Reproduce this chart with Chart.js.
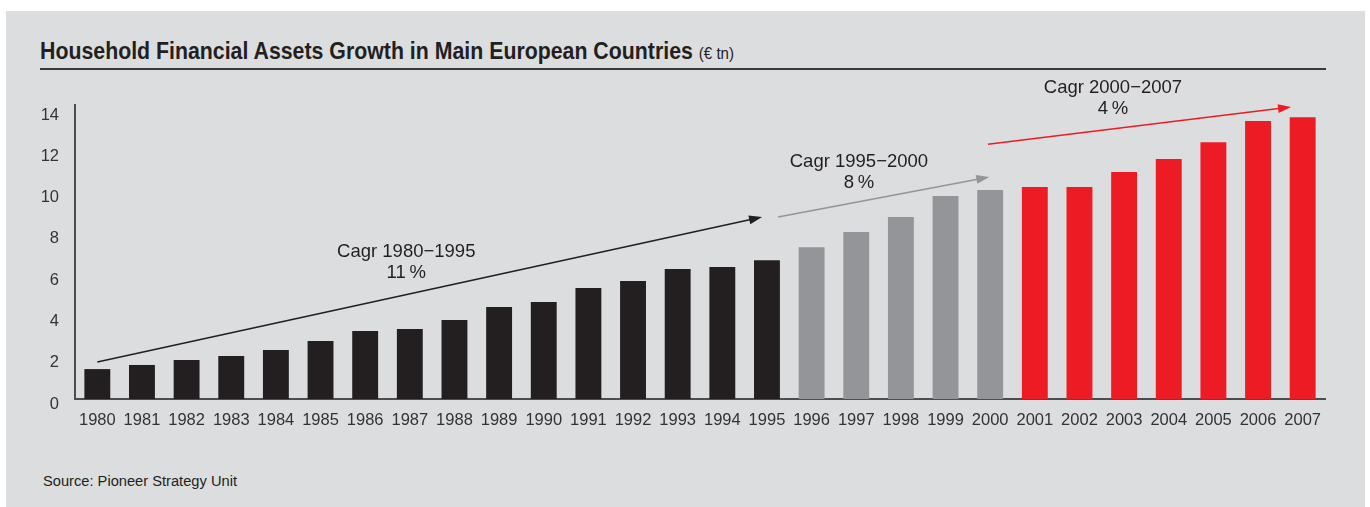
<!DOCTYPE html>
<html>
<head>
<meta charset="utf-8">
<script src="https://cdn.jsdelivr.net/npm/chart.js@4"></script>
<style>
  html, body { margin: 0; padding: 0; background: #ffffff; }
  body { width: 1370px; height: 507px; position: relative; overflow: hidden;
         font-family: "Liberation Sans", Arial, sans-serif; color: #231f20; }
  #panel { position: absolute; left: 6px; top: 11px; width: 1359px; height: 496px; background: #dcdddf; }
  #title { position: absolute; left: 40px; top: 37px; font-size: 24px; line-height: 28px; font-weight: bold;
           white-space: nowrap; transform-origin: 0 0; }
  #title span { font-size: 17px; font-weight: normal; }
  #rule { position: absolute; left: 40px; top: 68px; width: 1286px; height: 2px; background: #3a3a3c; }
  #source { position: absolute; left: 43px; top: 472px; font-size: 14px; line-height: 18px; white-space: nowrap;
            transform-origin: 0 0; }
  canvas { position: absolute; left: 0; top: 0; }
</style>
</head>
<body>
<div id="panel"></div>
<div id="title">Household Financial Assets Growth in Main European Countries <span>(€ tn)</span></div>
<div id="rule"></div>
<div id="source">Source: Pioneer Strategy Unit</div>
<canvas id="grafica" width="1370" height="507"></canvas>
<script>
// datos del grafico
const anios = ['1980','1981','1982','1983','1984','1985','1986','1987','1988','1989',
               '1990','1991','1992','1993','1994','1995','1996','1997','1998','1999',
               '2000','2001','2002','2003','2004','2005','2006','2007'];
const activos = [1.45,1.65,1.89,2.08,2.37,2.81,3.29,3.39,3.83,4.46,
                 4.70,5.38,5.72,6.30,6.40,6.73,7.36,8.09,8.82,9.84,
                 10.13,10.27,10.27,11.00,11.63,12.45,13.47,13.66];
const ticksY = [0,2,4,6,8,10,12,14];
const periodos = ['Cagr 1980\u22121995','Cagr 1995\u22122000','Cagr 2000\u22122007'];
const tasas = ['11\u2009%','8\u2009%','4\u2009%'];

// ajustar ancho del titulo (fuente condensada en el original)
function ajustarAncho(id, ancho){
    const el = document.getElementById(id);
    const w = el.getBoundingClientRect().width;
    el.style.transform = 'scaleX(' + (ancho / w) + ')';
}
ajustarAncho('title', 694);
ajustarAncho('source', 194);

const NEGRO = '#231f20', GRIS = '#939598', ROJO = '#ed1c24';
function colorBarra(anio){
    const a = parseInt(anio);
    if (a <= 1995) return NEGRO;
    if (a <= 2000) return GRIS;
    return ROJO;
}

// flechas en unidades del grafico: [indice, valor]
const flechas = [
    { desde: [0, 1.79],     hasta: [14.89, 8.82],  color: NEGRO, texto: [6.92, 7.12] },
    { desde: [15.25, 8.82], hasta: [19.98, 10.76], color: GRIS,  texto: [17.06, 11.48] },
    { desde: [19.95, 12.35], hasta: [26.74, 14.15], color: ROJO, texto: [22.75, 15.10] }
];

const FUENTE = '"Liberation Sans", Arial, sans-serif';

const pluginFlechas = {
    id: 'flechas',
    afterDatasetsDraw(chart){
        const ctx = chart.ctx, x = chart.scales.x, y = chart.scales.y;
        flechas.forEach((f, i) => {
            const x1 = x.getPixelForValue(f.desde[0]), y1 = y.getPixelForValue(f.desde[1]);
            const x2 = x.getPixelForValue(f.hasta[0]), y2 = y.getPixelForValue(f.hasta[1]);
            const ang = Math.atan2(y2 - y1, x2 - x1);
            const largo = 13, ancho = 4.5;
            ctx.save();
            ctx.strokeStyle = f.color;
            ctx.fillStyle = f.color;
            ctx.lineWidth = 1.6;
            ctx.beginPath();
            ctx.moveTo(x1, y1);
            ctx.lineTo(x2 - Math.cos(ang) * largo * 0.8, y2 - Math.sin(ang) * largo * 0.8);
            ctx.stroke();
            ctx.beginPath();
            ctx.moveTo(x2, y2);
            ctx.lineTo(x2 - Math.cos(ang) * largo - Math.sin(ang) * ancho, y2 - Math.sin(ang) * largo + Math.cos(ang) * ancho);
            ctx.lineTo(x2 - Math.cos(ang) * largo + Math.sin(ang) * ancho, y2 - Math.sin(ang) * largo - Math.cos(ang) * ancho);
            ctx.closePath();
            ctx.fill();
            // texto
            const tx = x.getPixelForValue(f.texto[0]), ty = y.getPixelForValue(f.texto[1]);
            ctx.fillStyle = NEGRO;
            ctx.font = '18.5px ' + FUENTE;
            ctx.textAlign = 'center';
            ctx.textBaseline = 'middle';
            ctx.fillText(periodos[i], tx, ty);
            ctx.fillText(tasas[i], tx, ty + 21);
            ctx.restore();
        });
    }
};

const grafica = document.getElementById('grafica');
const ctxgrafica = new Chart(grafica, {
    type: 'bar',
    data: {
        labels: anios,
        datasets: [{
            label: 'Household Financial Assets',
            data: activos,
            backgroundColor: anios.map(colorBarra),
            borderWidth: 0,
            categoryPercentage: 1,
            barPercentage: 0.58
        }]
    },
    options: {
        responsive: false,
        animation: false,
        layout: { padding: { left: 0, top: 105, right: 45, bottom: 68 } },
        plugins: {
            legend: { display: false },
            tooltip: { enabled: false }
        },
        scales: {
            x: {
                grid: { display: false, drawTicks: false },
                border: { display: true, color: '#4d4d4f', width: 2 },
                ticks: { color: '#333333', padding: 12, maxRotation: 0, autoSkip: false,
                         font: { family: FUENTE, size: 16.5 } },
                afterFit(scale){ scale.height = 40; }
            },
            y: {
                min: 0,
                max: 14.25,
                grid: { display: false, drawTicks: false },
                border: { display: true, color: '#4d4d4f', width: 2 },
                afterBuildTicks(scale){ scale.ticks = ticksY.map(v => ({ value: v })); },
                ticks: { color: '#333333', padding: 16, labelOffset: 5,
                         font: { family: FUENTE, size: 16.5 } },
                afterFit(scale){ scale.width = 75; }
            }
        }
    },
    plugins: [pluginFlechas]
});
</script>
</body>
</html>
